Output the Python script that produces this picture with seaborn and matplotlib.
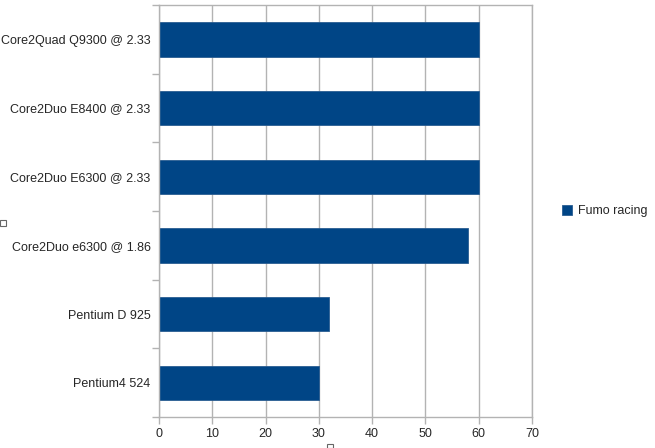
import pandas as pd
import matplotlib
matplotlib.use('Agg')
import matplotlib.pyplot as plt
from matplotlib.patches import Rectangle
import seaborn as sns

cpus = ['Core2Quad Q9300 @ 2.33', 'Core2Duo E8400 @ 2.33', 'Core2Duo E6300 @ 2.33',
        'Core2Duo e6300 @ 1.86', 'Pentium D 925', 'Pentium4 524']
fumo_racing = [60, 60, 60, 58, 32, 30]
x_ticks = [0, 10, 20, 30, 40, 50, 60, 70]


def main():
    sns.set_style('white')
    plt.rcParams['font.family'] = ['Liberation Sans', 'DejaVu Sans']

    df = pd.DataFrame({'cpu': cpus, 'value': fumo_racing, 'series': 'Fumo racing'})

    fig = plt.figure(figsize=(6.55, 4.48), dpi=100)
    ax = fig.add_axes([0.2427, 0.0692, 0.5695, 0.9196])

    sns.barplot(data=df, x='value', y='cpu', hue='series', palette=['#004586'],
                orient='h', width=0.5, ax=ax, legend=True, saturation=1,
                edgecolor='#2a5d91', linewidth=0.6)

    ax.set_xlim(0, 70)
    ax.set_ylim(len(cpus) - 0.5, -0.5)
    ax.set_xticks(x_ticks)
    ax.set_xlabel('')
    ax.set_ylabel('')
    ax.xaxis.grid(True, color='#b3b3b3', linewidth=1)
    ax.set_axisbelow(True)

    # category separators on the left axis
    ax.set_yticks([i + 0.5 for i in range(-1, len(cpus))], minor=True)
    ax.tick_params(axis='y', which='major', left=False, length=0, labelsize=9, pad=6)
    ax.tick_params(axis='y', which='minor', left=True, length=5, color='#b3b3b3', width=1)
    ax.tick_params(axis='x', bottom=True, length=5, color='#b3b3b3', width=1, labelsize=9, pad=3)

    for side in ['left', 'bottom', 'top', 'right']:
        ax.spines[side].set_visible(True)
        ax.spines[side].set_color('#b3b3b3')
        ax.spines[side].set_linewidth(1)

    ax.legend(loc='center left', bbox_to_anchor=(1.05, 0.5), frameon=False,
              fontsize=9, handlelength=0.8, handleheight=0.8, handletextpad=0.5)

    # selection handles from the original screenshot
    fig.add_artist(Rectangle((0 / 655, 1 - 226 / 448), 6 / 655, 6 / 448,
                             transform=fig.transFigure, fill=False, edgecolor='#666666', linewidth=0.8))
    fig.add_artist(Rectangle((327 / 655, 1 - 448 / 448), 6 / 655, 4 / 448,
                             transform=fig.transFigure, fill=False, edgecolor='#666666', linewidth=0.8))

    fig.savefig('out.png', dpi=100)


if __name__ == '__main__':
    main()
